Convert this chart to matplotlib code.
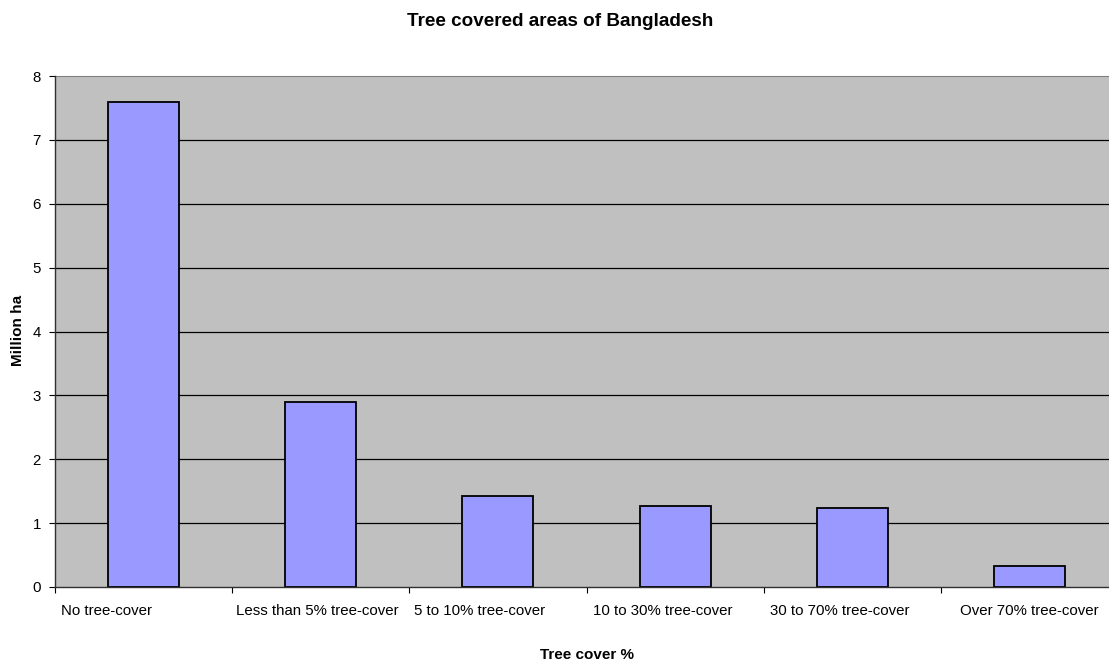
import numpy as np
import matplotlib
matplotlib.use("Agg")
import matplotlib.pyplot as plt
from matplotlib.transforms import ScaledTranslation

categories = ["No tree-cover", "Less than 5% tree-cover", "5 to 10% tree-cover",
              "10 to 30% tree-cover", "30 to 70% tree-cover", "Over 70% tree-cover"]
million_ha = [7.6, 2.89, 1.43, 1.27, 1.23, 0.33]
y_ticks = [0, 1, 2, 3, 4, 5, 6, 7, 8]

plt.rcParams['font.family'] = ['Liberation Sans', 'DejaVu Sans']

W, H = 1109, 663
fig = plt.figure(figsize=(W / 100, H / 100), dpi=100)
ax = fig.add_axes([55 / W, 1 - 587 / H, (1118 - 55) / W, (587 - 76) / H])
ax.set_facecolor('#C0C0C0')

x = np.arange(len(categories))
ax.bar(x, million_ha, width=0.4, color='#9999FF', edgecolor='black', linewidth=1.3, zorder=3)

ax.set_xlim(-0.5, len(categories) - 0.5)
ax.set_ylim(0, 8)
ax.set_yticks(y_ticks)
ax.tick_params(axis='y', labelsize=10.8, length=4, width=0.8, pad=6)
for v in y_ticks[1:-1]:
    ax.axhline(v, color='black', linewidth=0.9, zorder=1)

ax.set_xticks(x)
ax.set_xticklabels(categories)
ax.tick_params(axis='x', which='major', length=0, labelsize=10.8, pad=12)
ax.set_xticks(np.arange(len(categories) + 1) - 0.5, minor=True)
ax.tick_params(axis='x', which='minor', length=4, width=0.8)

# excel spreads the category labels unevenly, shift them like it does (pixels)
shifts = [-37, -3, -18, -12, -12, 0]
for lab, dx in zip(ax.get_xticklabels(), shifts):
    lab.set_transform(lab.get_transform() + ScaledTranslation(dx / 100, 0, fig.dpi_scale_trans))

ax.spines['top'].set_color('#808080')
ax.spines['right'].set_visible(False)
for s in ['left', 'bottom']:
    ax.spines[s].set_color('#303030')
    ax.spines[s].set_linewidth(1.0)
    ax.spines[s].set_zorder(4)

fig.text(560 / W, 1 - 21 / H, "Tree covered areas of Bangladesh", ha='center', va='center',
         fontsize=13.6, fontweight='bold')
fig.text(587 / W, 1 - 655 / H, "Tree cover %", ha='center', va='center',
         fontsize=11, fontweight='bold')
fig.text(18 / W, 1 - 330 / H, "Million ha", ha='center', va='center', rotation=90,
         fontsize=11, fontweight='bold')

fig.savefig("out.png", dpi=100)
